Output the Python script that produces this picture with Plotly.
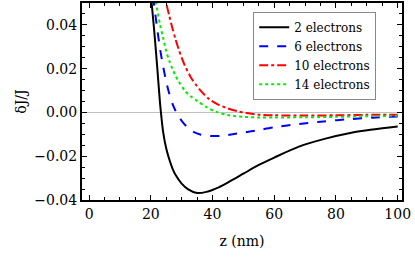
import plotly.graph_objects as go

# ---- data ----
z_2 = [20, 21, 22, 23, 23.5, 24, 25, 26, 27, 28, 30, 32, 35, 38, 42, 46, 50, 55, 60, 68, 76, 85, 92, 100]
dj_2 = [0.054, 0.039, 0.022, 0.004, -0.003, -0.009, -0.0165, -0.0215, -0.0255, -0.0285, -0.0325, -0.035,
        -0.0368, -0.0363, -0.0342, -0.0312, -0.028, -0.0240, -0.0206, -0.0156, -0.0122, -0.0093, -0.0078, -0.0064]

z_6 = [20, 21, 22, 23, 24, 25, 26, 27, 28, 29, 30, 32, 34, 36, 38, 40, 43, 46, 50, 55, 60, 68, 76, 85, 92, 100]
dj_6 = [0.061, 0.050, 0.039, 0.029, 0.021, 0.014, 0.0085, 0.0040, 0.0008, -0.0018, -0.0038, -0.0070,
        -0.0090, -0.0101, -0.0106, -0.0108, -0.0107, -0.0101, -0.0092, -0.0080, -0.0068, -0.0053,
        -0.0041, -0.0030, -0.0024, -0.0018]

z_10 = [24, 25, 26, 27, 28, 29, 30, 31, 33, 36, 39, 42, 45, 48, 51, 55, 60, 70, 80, 90, 100]
dj_10 = [0.057, 0.050, 0.044, 0.0385, 0.0335, 0.029, 0.025, 0.0215, 0.0160, 0.0102, 0.0060, 0.0035,
         0.0018, 0.0006, -0.0003, -0.0010, -0.0013, -0.0014, -0.0013, -0.0011, -0.0010]

z_14 = [21, 21.7, 23, 24, 25, 26, 27, 28, 29, 31, 33, 35, 38, 41, 45, 50, 55, 60, 70, 80, 90, 100]
dj_14 = [0.056, 0.050, 0.040, 0.034, 0.028, 0.0235, 0.020, 0.0168, 0.0142, 0.010, 0.0073, 0.0053,
         0.0025, 0.0004, -0.0012, -0.0020, -0.0023, -0.0023, -0.0022, -0.0020, -0.0017, -0.0015]

names = ["2 electrons", "6 electrons", "10 electrons", "14 electrons"]
colors = ["black", "#0000ff", "#ff0000", "#00ee00"]
dashes = ["solid", "dash", "dashdot", "dot"]

x_ticks = [0, 20, 40, 60, 80, 100]
y_ticks = [-0.04, -0.02, 0.00, 0.02, 0.04]

FONT = "DejaVu Serif"

fig = go.Figure()
for zs, ys, nm, c, d in zip([z_2, z_6, z_10, z_14], [dj_2, dj_6, dj_10, dj_14], names, colors, dashes):
    fig.add_trace(go.Scatter(x=zs, y=ys, mode="lines", name=nm,
                             line=dict(color=c, width=2, dash=d, shape="spline", smoothing=0.8)))

axis_common = dict(
    showline=True, linecolor="black", linewidth=2, mirror="allticks",
    ticks="inside", ticklen=5, tickcolor="black", tickwidth=1,
    showgrid=False,
    tickfont=dict(family=FONT, size=14, color="black"),
)

fig.update_xaxes(range=[-2.3, 101.4], tickvals=x_ticks, ticktext=[str(v) for v in x_ticks],
                 zeroline=False,
                 minor=dict(ticks="inside", ticklen=3, dtick=5, tick0=0, tickcolor="black", showgrid=False),
                 title=dict(text="z (nm)", font=dict(family=FONT, size=14, color="black"), standoff=15),
                 **axis_common)
fig.update_yaxes(range=[-0.04, 0.05], tickvals=y_ticks, tickformat=".2f",
                 zeroline=True, zerolinecolor="#c0c0c0", zerolinewidth=1.2,
                 minor=dict(ticks="inside", ticklen=3, dtick=0.005, tick0=0, tickcolor="black", showgrid=False),
                 title=dict(text="δJ/J", font=dict(family=FONT, size=14, color="black"), standoff=4),
                 **axis_common)

fig.update_layout(
    width=415, height=260,
    margin=dict(l=82, r=13, t=1, b=60),
    plot_bgcolor="white", paper_bgcolor="white",
    font=dict(family=FONT, size=12, color="black"),
    legend=dict(x=0.535, y=0.955, xanchor="left", yanchor="top",
                bgcolor="white", bordercolor="#888888", borderwidth=1,
                font=dict(family=FONT, size=12, color="black"),
                itemwidth=30, tracegroupgap=0),
    showlegend=True,
)

fig.write_html("out.html", config={"displayModeBar": False},
               post_script="document.body.style.margin='0';")
